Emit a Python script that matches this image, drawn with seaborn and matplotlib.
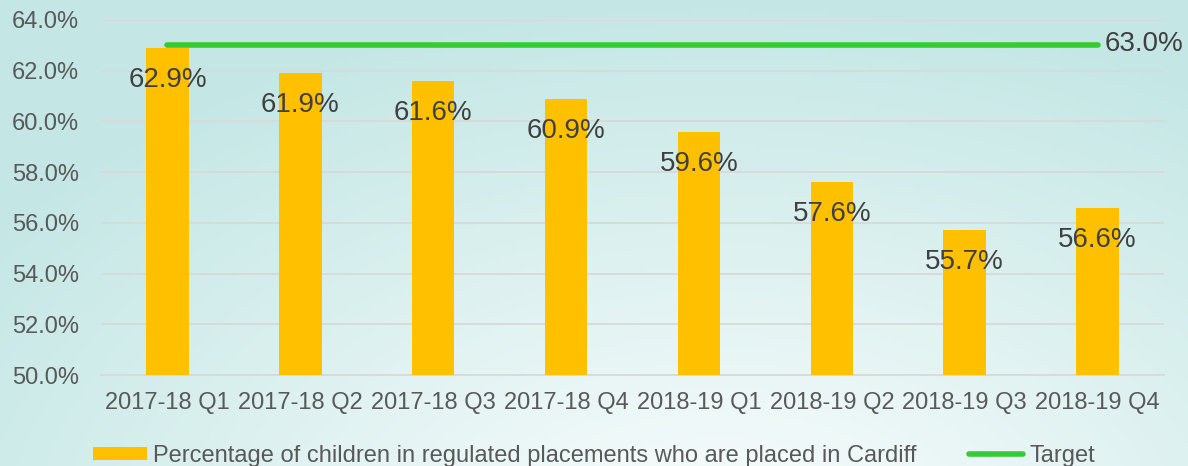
import matplotlib
matplotlib.use("Agg")
import matplotlib.pyplot as plt
import numpy as np
import pandas as pd
import seaborn as sns

quarters = ["2017-18 Q1", "2017-18 Q2", "2017-18 Q3", "2017-18 Q4",
            "2018-19 Q1", "2018-19 Q2", "2018-19 Q3", "2018-19 Q4"]
placed_in_cardiff = [62.9, 61.9, 61.6, 60.9, 59.6, 57.6, 55.7, 56.6]
target = [63.0, 63.0, 63.0, 63.0, 63.0, 63.0, 63.0, 63.0]

bar_label = "Percentage of children in regulated placements who are placed in Cardiff"
line_label = "Target"

df = pd.DataFrame({"quarter": quarters, "value": placed_in_cardiff})

sns.set_theme(style="white")
plt.rcParams["font.family"] = ["Liberation Sans", "DejaVu Sans"]

fig = plt.figure(figsize=(11.88, 4.66), dpi=100)

# soft teal -> white background gradient
bg = fig.add_axes([0, 0, 1, 1], zorder=-10)
gx, gy = np.meshgrid(np.linspace(0, 1188, 300), np.linspace(0, 466, 120))
dist = np.sqrt(((gx - 720) / 1.0) ** 2 + ((gy - 560) * 1.6) ** 2)
t = np.clip(dist / 900, 0, 1)
top = np.array([196, 231, 229]) / 255
bottom = np.array([252, 254, 254]) / 255
img = bottom + (top - bottom) * t[..., None]
bg.imshow(img, aspect="auto", extent=[0, 1, 0, 1], origin="upper")
bg.axis("off")

ax = fig.add_axes([101 / 1188, 1 - 375 / 466, (1164 - 101) / 1188, (375 - 20) / 466])
ax.set_facecolor("none")

sns.barplot(data=df, x="quarter", y="value", color="#FFC000", width=0.32,
            saturation=1, ax=ax, linewidth=0, zorder=3)
pos = np.arange(len(quarters))
line, = ax.plot(pos, target, color="#33CC33", lw=4, solid_capstyle="round",
                label=line_label, zorder=4)

for x, v in zip(pos, placed_in_cardiff):
    ax.annotate(f"{v:.1f}%", (x, v), xytext=(0, -23), textcoords="offset points",
                ha="center", va="center", fontsize=20, color="#404040", zorder=5)
ax.annotate(f"{target[-1]:.1f}%", (pos[-1], target[-1]), xytext=(5, 1),
            textcoords="offset points", ha="left", va="center",
            fontsize=20, color="#404040", annotation_clip=False)

ax.set_xlim(-0.5, len(quarters) - 0.5)
ax.set_ylim(50, 64)
ax.set_yticks(np.arange(50, 64.1, 2))
ax.set_yticklabels([f"{v:.1f}%" for v in np.arange(50, 64.1, 2)])
ax.yaxis.grid(True, color="#D9D9D9", lw=1.3, zorder=0)
ax.set_axisbelow(True)
for s in ["top", "right", "left"]:
    ax.spines[s].set_visible(False)
ax.spines["bottom"].set_color("#D9D9D9")
ax.spines["bottom"].set_linewidth(1.3)
ax.tick_params(axis="y", length=0, pad=16, labelsize=17, labelcolor="#595959")
ax.tick_params(axis="x", length=0, pad=12, labelsize=17, labelcolor="#595959")
ax.set_xlabel("")
ax.set_ylabel("")

bar_handle = plt.Rectangle((0, 0), 1, 1, color="#FFC000", lw=0)
fig.legend([bar_handle, line], [bar_label, line_label], loc="center",
           bbox_to_anchor=(594 / 1188, 1 - 456 / 466),
           ncol=2, frameon=False, fontsize=17, labelcolor="#595959",
           handlelength=2.3, handleheight=0.5, handletextpad=0.25,
           columnspacing=2.2)

fig.savefig("out.png", dpi=100)
